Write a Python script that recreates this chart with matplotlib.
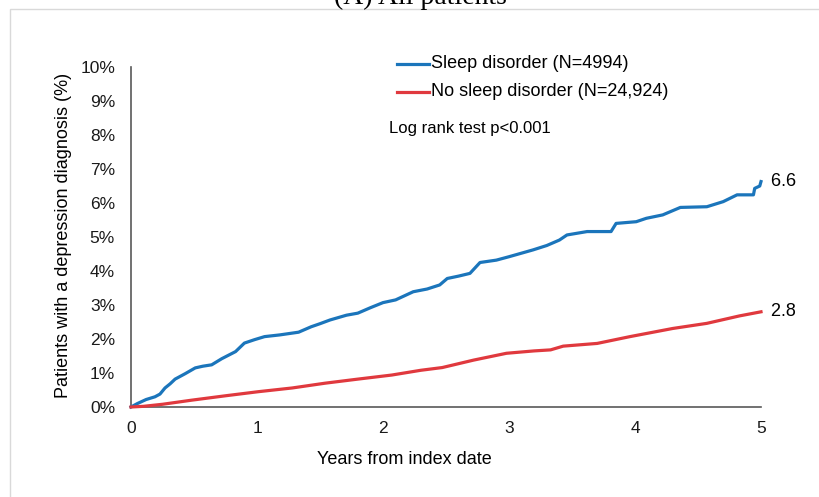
import numpy as np
import matplotlib
matplotlib.use("Agg")
import matplotlib.pyplot as plt
from matplotlib.lines import Line2D
from matplotlib.patches import Rectangle

plt.rcParams['font.family'] = ['Liberation Sans', 'DejaVu Sans']

# cumulative incidence (years, %)
sleep_t = [0, 0.05, 0.12, 0.19, 0.23, 0.27, 0.31, 0.35, 0.43, 0.51, 0.57, 0.64,
           0.72, 0.83, 0.90, 0.98, 1.06, 1.18, 1.33, 1.43, 1.50, 1.58, 1.71, 1.80,
           1.90, 2.00, 2.10, 2.24, 2.35, 2.45, 2.51, 2.60, 2.69, 2.77, 2.90, 3.00,
           3.19, 3.30, 3.40, 3.46, 3.62, 3.81, 3.85, 4.01, 4.09, 4.22, 4.36, 4.57,
           4.70, 4.81, 4.94, 4.95, 4.99, 5.00]
sleep_pct = [0, 0.10, 0.22, 0.30, 0.38, 0.56, 0.68, 0.82, 0.98, 1.15, 1.20, 1.24,
             1.42, 1.63, 1.88, 1.98, 2.07, 2.12, 2.20, 2.36, 2.45, 2.56, 2.70, 2.76,
             2.92, 3.07, 3.15, 3.39, 3.47, 3.59, 3.78, 3.85, 3.93, 4.25, 4.32, 4.42,
             4.62, 4.75, 4.91, 5.06, 5.16, 5.16, 5.40, 5.45, 5.55, 5.65, 5.87, 5.89,
             6.04, 6.24, 6.24, 6.43, 6.50, 6.63]

nosleep_t = [0, 0.10, 0.25, 0.48, 0.75, 1.01, 1.28, 1.54, 1.80, 2.07, 2.30, 2.47,
             2.72, 2.98, 3.20, 3.33, 3.43, 3.70, 3.96, 4.30, 4.57, 4.83, 5.00]
nosleep_pct = [0, 0.02, 0.08, 0.20, 0.33, 0.45, 0.56, 0.70, 0.82, 0.94, 1.08, 1.16,
               1.38, 1.58, 1.65, 1.68, 1.79, 1.87, 2.07, 2.31, 2.46, 2.68, 2.80]

labels = ["Sleep disorder (N=4994)", "No sleep disorder (N=24,924)"]
end_labels = ["6.6", "2.8"]
yticks = list(range(0, 11))
xticks = list(range(0, 6))

blue = '#1b75bb'
red = '#e0393e'
W, H = 819, 497


def px(x, y):
    return x / W, 1 - y / H


fig = plt.figure(figsize=(W / 100, H / 100), dpi=100)

# light frame around the panel
fig.add_artist(Rectangle(px(10, 600), 1.2, (600 - 9) / H, transform=fig.transFigure,
                         fill=False, edgecolor='#d9d9d9', lw=1.0))

fig.text(*px(420, 3.5), "(A) All patients", family='Liberation Serif',
         fontsize=20, ha='center', va='baseline')

ax = fig.add_axes([131 / W, 1 - 407 / H, 630 / W, 340 / H])
ax.plot(sleep_t, sleep_pct, color=blue, lw=2.3, clip_on=False, zorder=3)
ax.plot(nosleep_t, nosleep_pct, color=red, lw=2.3, clip_on=False, zorder=3)

ax.set_xlim(0, 5)
ax.set_ylim(0, 10)
ax.set_xticks(xticks)
ax.set_yticks(yticks)
ax.set_yticklabels([f"{v}%" for v in yticks])
ax.tick_params(length=0, labelsize=12.5, colors='#1a1a1a')
ax.tick_params(axis='y', pad=11.5)
ax.tick_params(axis='x', pad=10)
for s in ['top', 'right']:
    ax.spines[s].set_visible(False)
for s in ['left', 'bottom']:
    ax.spines[s].set_color('#595959')
    ax.spines[s].set_linewidth(1.2)

# end values
ax.text(1.0, sleep_pct[-1] / 10, "  " + end_labels[0], transform=ax.transAxes,
        fontsize=13, va='center', ha='left')
ax.text(1.0, nosleep_pct[-1] / 10, "  " + end_labels[1], transform=ax.transAxes,
        fontsize=13, va='center', ha='left')

# hand placed legend
for (yy, col, lab) in [(63.5, blue, labels[0]), (92, red, labels[1])]:
    x0, y0 = px(397, yy)
    x1, _ = px(429, yy)
    fig.add_artist(Line2D([x0, x1], [y0, y0], color=col, lw=2.3,
                          transform=fig.transFigure))
    fig.text(*px(431, yy), lab, fontsize=13, va='center', ha='left')

fig.text(*px(389, 129), "Log rank test p<0.001", fontsize=12, va='center', ha='left')

fig.text(*px(404, 459), "Years from index date", fontsize=13, ha='center', va='center')
fig.text(*px(64, 235), "Patients with a depression diagnosis (%)", fontsize=13,
         rotation=90, ha='center', va='center')

fig.savefig("out.png", dpi=100)
